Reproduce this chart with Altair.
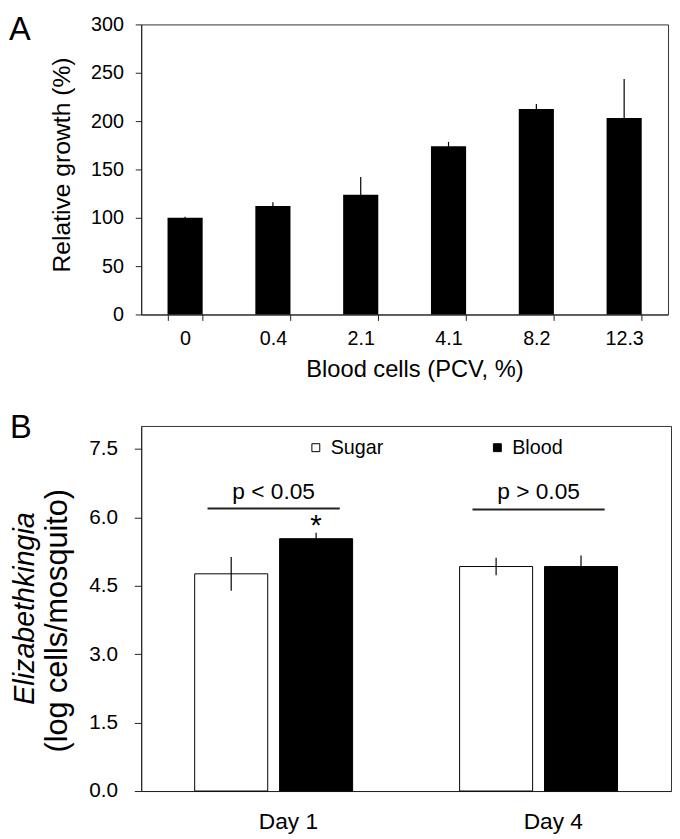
import altair as alt
import pandas as pd

FONT = "Liberation Sans"

# ---------------- Panel A data ----------------
pcv = ["0", "0.4", "2.1", "4.1", "8.2", "12.3"]
growth = [100, 112.3, 123.8, 174, 212.5, 203.3]
growth_err = [1, 3.7, 18.5, 4.5, 5.3, 40.3]
y_ticks_a = [0, 50, 100, 150, 200, 250, 300]

# ---------------- Panel B data ----------------
days = ["Day 1", "Day 4"]
groups = ["Sugar", "Blood"]
sugar = [4.76, 4.92]
sugar_err = [0.37, 0.19]
blood = [5.53, 4.92]
blood_err = [0.13, 0.24]
y_ticks_b = [0.0, 1.5, 3.0, 4.5, 6.0, 7.5]
p_labels = ["p < 0.05", "p > 0.05"]
p_text_y = [6.41, 6.41]
p_line_y = [6.19, 6.17]
star_day = ["Day 1"]
star_group = ["Blood"]
star_y = [5.62]
panel_letters = ["A", "B"]
b_title_lines = ["Elizabethkingia", "(log cells/mosquito)"]

# ---------------- Panel A ----------------
WA, HA = 534, 294
dfA = pd.DataFrame({"pcv": pcv, "growth": growth, "err": growth_err})
dfA["lo"] = dfA["growth"] - dfA["err"]
dfA["hi"] = dfA["growth"] + dfA["err"]

xA = alt.X("pcv:N", sort=pcv,
           scale=alt.Scale(paddingInner=0.6, paddingOuter=0.3),
           axis=alt.Axis(title="Blood cells (PCV, %)", labelAngle=0, tickBand="extent",
                         tickSize=6, labelPadding=8, labelFontSize=20, titleFontSize=24,
                         titleX=277, titleY=63, titleBaseline="alphabetic"))
axA = alt.Axis(values=y_ticks_a, title="Relative growth (%)", grid=False, tickSize=6,
               labelPadding=12, labelFontSize=20, titleFontSize=25,
               titleX=-81, titleY=142, titleBaseline="middle")
scA = alt.Scale(domain=[0, 300])

barsA = alt.Chart(dfA).mark_bar(color="black").encode(
    x=xA, y=alt.Y("growth:Q", scale=scA, axis=axA))
errA = alt.Chart(dfA).mark_rule(color="black", strokeWidth=1.2).encode(
    x=xA, y=alt.Y("lo:Q", scale=scA, axis=axA), y2="hi:Q")
letterA = alt.Chart(pd.DataFrame({"t": [panel_letters[0]]})).mark_text(
    align="left", baseline="top", fontSize=33, color="black").encode(
    x=alt.value(-134), y=alt.value(-10), text="t:N")

panelA = alt.layer(barsA, errA, letterA).properties(width=WA, height=HA)

# ---------------- Panel B ----------------
WB, HB = 537, 370
rows = []
for i, d in enumerate(days):
    rows.append({"day": d, "group": "Sugar", "value": sugar[i], "err": sugar_err[i]})
    rows.append({"day": d, "group": "Blood", "value": blood[i], "err": blood_err[i]})
dfB = pd.DataFrame(rows)
dfB["lo"] = dfB["value"] - dfB["err"]
dfB["hi"] = dfB["value"] + dfB["err"]

xB = alt.X("day:N", sort=days, scale=alt.Scale(paddingInner=0, paddingOuter=0),
           axis=alt.Axis(title=None, ticks=False, tickSize=0, labelAngle=0, labelPadding=20,
                         labelFontSize=23, labelOffset=15))
xoB = alt.XOffset("group:N", sort=groups,
                  scale=alt.Scale(domain=groups, paddingInner=0.14, paddingOuter=0.63))
scB = alt.Scale(domain=[0, 8])
axB = alt.Axis(values=y_ticks_b, format=".1f", grid=False, tickSize=7, labelPadding=17,
               labelFontSize=21, title=b_title_lines[1], titleFontSize=31,
               titleX=-85, titleY=197, titleBaseline="middle")

barsB = alt.Chart(dfB).mark_bar(stroke="black", strokeWidth=1).encode(
    x=xB, xOffset=xoB,
    y=alt.Y("value:Q", scale=scB, axis=axB),
    fill=alt.Fill("group:N", sort=groups,
                  scale=alt.Scale(domain=groups, range=["white", "black"]),
                  legend=alt.Legend(title=None, orient="none", legendX=167, legendY=12,
                                    direction="horizontal", symbolType="square",
                                    symbolSize=64, symbolStrokeColor="black",
                                    symbolStrokeWidth=1, labelFontSize=20, labelFont=FONT,
                                    labelColor="black", labelOffset=5, columnPadding=105,
                                    padding=0)))
errB = alt.Chart(dfB).mark_rule(color="black", strokeWidth=1.2).encode(
    x=xB, xOffset=xoB, y=alt.Y("lo:Q", scale=scB, axis=axB), y2="hi:Q")

dfP = pd.DataFrame({"day": days, "label": p_labels, "ty": p_text_y, "ly": p_line_y})
pline = alt.Chart(dfP).mark_tick(orient="horizontal", size=134, thickness=2, color="#222",
                                 opacity=1).encode(
    x=xB, y=alt.Y("ly:Q", scale=scB, axis=axB))
ptext = alt.Chart(dfP).mark_text(baseline="alphabetic", fontSize=23, color="black").encode(
    x=xB, y=alt.Y("ty:Q", scale=scB, axis=axB), text="label:N")

dfS = pd.DataFrame({"day": star_day, "group": star_group, "sy": star_y, "t": ["*"]})
star = alt.Chart(dfS).mark_text(baseline="alphabetic", fontSize=30, color="black").encode(
    x=xB, xOffset=xoB, y=alt.Y("sy:Q", scale=scB, axis=axB), text="t:N")

italic = alt.Chart(pd.DataFrame({"t": [b_title_lines[0]]})).mark_text(
    angle=270, align="center", baseline="middle", fontSize=29, fontStyle="italic",
    color="black").encode(x=alt.value(-118), y=alt.value(185), text="t:N")
letterB = alt.Chart(pd.DataFrame({"t": [panel_letters[1]]})).mark_text(
    align="left", baseline="top", fontSize=33, color="black").encode(
    x=alt.value(-133), y=alt.value(-13.5), text="t:N")

panelB = alt.layer(barsB, errB, pline, ptext, star, italic, letterB).properties(
    width=WB, height=HB)

chart = alt.vconcat(panelA, panelB, spacing=30).resolve_legend(
    fill="independent"
).properties(
    padding={"left": 0, "top": 0, "right": 0, "bottom": 0}
).configure(font=FONT).configure_view(stroke="#333", strokeWidth=1).configure_axis(
    domainColor="#222", tickColor="#222", labelColor="black", titleColor="black",
    titleFontWeight="normal", labelFont=FONT, titleFont=FONT
).configure_text(font=FONT)

chart.save("out.html", embed_options={"renderer": "svg", "actions": False})
